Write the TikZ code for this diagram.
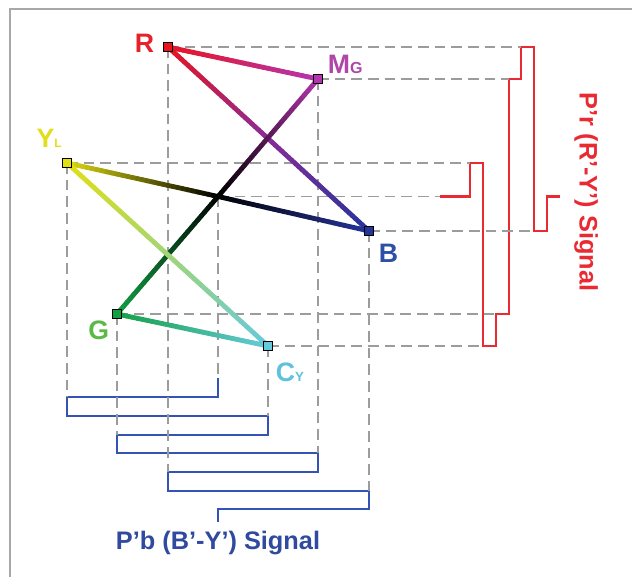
\documentclass[tikz,border=0pt]{standalone}
\usepackage{fontspec}
\setmainfont{Liberation Sans}
\usepackage{xcolor}
\usepackage{tikz}
\usetikzlibrary{positioning, calc}
\definecolor{ptred}{HTML}{E8141E}
\definecolor{ptmag}{HTML}{B535B0}
\definecolor{ptpurple}{HTML}{8A2C98}
\definecolor{ptyel}{HTML}{E2E010}
\definecolor{ptblue}{HTML}{25349A}
\definecolor{ptgreen}{HTML}{12A043}
\definecolor{ptcyan}{HTML}{66CADA}
\definecolor{labred}{HTML}{E8202A}
\definecolor{labmag}{HTML}{B046A8}
\definecolor{labyel}{HTML}{E3DE1C}
\definecolor{labblue}{HTML}{2D4FA8}
\definecolor{labgreen}{HTML}{5AB947}
\definecolor{labcyan}{HTML}{5EC2DC}
\definecolor{prred}{HTML}{EA2A32}
\definecolor{pbblue}{HTML}{3553B4}
\definecolor{pbtext}{HTML}{2F4A9E}
\definecolor{guidegray}{HTML}{9C9C9C}
\definecolor{framegray}{HTML}{A8A8A8}

% colour ramp along a straight line, in small pieces
\newcommand{\blendedge}[4]{%
  \foreach \seg in {0,...,29}{%
    \pgfmathtruncatemacro{\mixpct}{100-100*(\seg+0.5)/30}%
    \draw[ramp, color=#3!\mixpct!#4] ($(#1)!\seg/30!(#2)$) -- ($(#1)!\seg/30+1/30!(#2)$);
  }}

\begin{document}
\begin{tikzpicture}[
  x=0.75pt, y=-0.75pt,
  guide/.style={draw=guidegray, line width=1.3pt, dash pattern=on 8pt off 4.5pt},
  ramp/.style={line width=3.6pt, line cap=round},
  prwave/.style={draw=prred, line width=1.6pt},
  pbwave/.style={draw=pbblue, line width=1.8pt},
  ptbox/.style={rectangle, draw=black, line width=1pt, minimum size=6.5pt, inner sep=0pt},
  ptlabel/.style={inner sep=0pt, font=\bfseries\fontsize{20}{24}\selectfont},
  sigtext/.style={inner sep=0pt, font=\bfseries\fontsize{19}{23}\selectfont}
]
  \useasboundingbox (0,0) rectangle (632,577);
  \draw[framegray, line width=1.5pt] (10,577) -- (10,9) -- (632,9);

  % colour points, white/black in the middle
  \coordinate (R) at (168,47);
  \coordinate (MG) at (318,79);
  \coordinate (YL) at (67,163);
  \coordinate (W) at (218,196.5);
  \coordinate (B) at (369,231);
  \coordinate (G) at (117,314);
  \coordinate (CY) at (268,346);
  \coordinate (RB) at ($(R)!0.5!(B)$);

  % P'r waveform
  \draw[prwave] (440,196.5) coordinate (prW) -- (470,196.5) -- (470,163) coordinate (prYL)
    -- (483,163) -- (483,346) coordinate (prCY) -- (496,346) -- (496,314) coordinate (prG)
    -- (509,314) -- (509,79) coordinate (prMG) -- (521,79) -- (521,47) coordinate (prR)
    -- (534,47) -- (534,231) coordinate (prB) -- (547,231) -- (547,196.5) -- (560,196.5);

  % P'b waveform
  \draw[pbwave] (218,378) coordinate (pbW) -- (218,397) -- (67,397) coordinate (pbYL)
    -- (67,416) -- (268,416) coordinate (pbCY) -- (268,435) -- (117,435) coordinate (pbG)
    -- (117,453) -- (318,453) coordinate (pbMG) -- (318,472) -- (168,472) coordinate (pbR)
    -- (168,491) -- (369,491) coordinate (pbB) -- (369,509) -- (218,509) -- (218,522) coordinate (pbend);

  \draw[guide] (R) -- (prR);
  \draw[guide] (MG) -- (prMG);
  \draw[guide] (YL) -- (prYL);
  \draw[guide] (W) -- (prW);
  \draw[guide] (B) -- (prB);
  \draw[guide] (G) -- (prG);
  \draw[guide] (CY) -- (prCY);

  \draw[guide] (YL) -- (pbYL);
  \draw[guide] (G) -- (pbG);
  \draw[guide] (R) -- (pbR);
  \draw[guide] (W) -- (pbW);
  \draw[guide] (CY) -- (pbCY);
  \draw[guide] (MG) -- (pbMG);
  \draw[guide] (B) -- (pbB);

  \blendedge{R}{MG}{ptred}{ptmag}
  \blendedge{R}{RB}{ptred}{ptpurple}
  \blendedge{RB}{B}{ptpurple}{ptblue}
  \blendedge{YL}{W}{ptyel}{black}
  \blendedge{W}{B}{black}{ptblue}
  \blendedge{MG}{W}{ptmag}{black}
  \blendedge{W}{G}{black}{ptgreen}
  \blendedge{YL}{CY}{ptyel}{ptcyan}
  \blendedge{G}{CY}{ptgreen}{ptcyan}

  \node[ptbox, fill=ptred] (Rbox) at (R) {};
  \node[ptbox, fill=ptmag] (MGbox) at (MG) {};
  \node[ptbox, fill=ptyel] (YLbox) at (YL) {};
  \node[ptbox, fill=ptblue] (Bbox) at (B) {};
  \node[ptbox, fill=ptgreen] (Gbox) at (G) {};
  \node[ptbox, fill=ptcyan] (CYbox) at (CY) {};

  \node[ptlabel, text=labred, left=6.5pt of Rbox, yshift=3pt] (Rlbl) {R};
  \node[ptlabel, text=labmag, above right=0pt and 3.5pt of MGbox] (MGlbl) {M{\fontsize{12}{12}\selectfont G}};
  \node[ptlabel, text=labyel, above left=8pt and 0pt of YLbox] (YLlbl) {Y{\fontsize{9}{9}\selectfont L}};
  \node[ptlabel, text=labblue, below right=5.8pt and 3.5pt of Bbox] (Blbl) {B};
  \node[ptlabel, text=labgreen, below left=1.3pt and 2pt of Gbox] (Glbl) {G};
  \node[ptlabel, text=labcyan, below right=8.7pt and 2pt of CYbox] (CYlbl) {C{\fontsize{10}{10}\selectfont Y}};

  \node[sigtext, text=pbtext, below=7pt of pbend] (pblbl) {P'b (B'-Y') Signal};
  \node[sigtext, text=prred, rotate=-90] (prlbl) at (586,192) {P'r (R'-Y') Signal};
\end{tikzpicture}
\end{document}
